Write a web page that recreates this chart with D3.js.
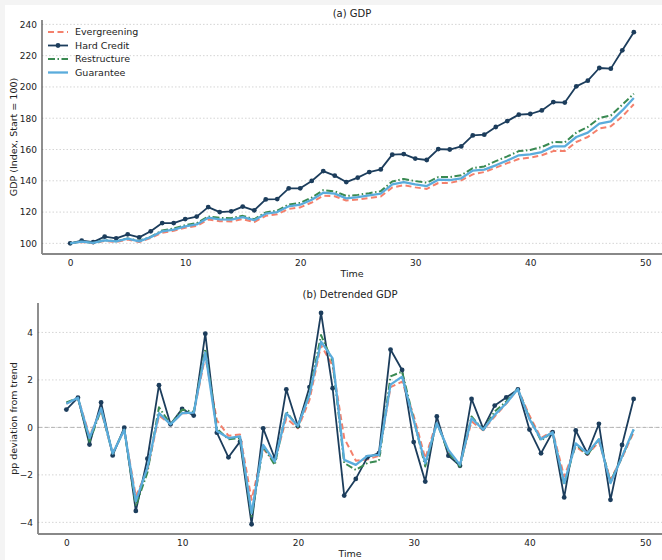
<!DOCTYPE html>
<html><head><meta charset="utf-8">
<script src="https://cdn.jsdelivr.net/npm/d3@7"></script>
<style>body{margin:0;background:#f4f4f4;}svg{display:block;font-family:"DejaVu Sans",sans-serif;}</style>
</head><body><svg id="c" width="662" height="560"></svg>
<script>
const time = d3.range(50);
const seriesNames = ["Evergreening","Hard Credit","Restructure","Guarantee"];
const gdpEvergreening = [100,100.9,100.1,101.6,100.9,102.5,100.8,103.4,106.8,108,110,111.1,115.2,114.2,114,115.5,113.6,117.6,118.6,122,123,126.1,130.5,130.1,127.4,128.1,129,130,135.7,137.2,135.8,134.8,138.6,138.6,140.3,144.1,145.6,148.4,151.3,153.9,154.8,156.3,159,159,164.8,168,173.4,174.8,181.2,188.9];
const gdpHardCredit = [100,101.7,100.8,104.3,103.2,105.8,103.8,107.7,113,113,115.5,117.1,123.2,120,120.5,123.5,121.1,128.1,128.3,135.2,135.2,139.9,146.2,143.3,139.2,142,145.6,147.3,156.7,157.1,154.2,153.3,160.3,160,162,169,169.5,174.4,178.2,182.3,182.7,185,190.3,190,200.4,204,212.1,211.7,223.4,235];
const gdpRestructure = [100,101.2,100.4,102,101.4,103.2,101.5,104.2,108.3,109.5,111.6,113,117.2,116.3,116.1,117.6,115.4,119.8,121,124.8,125.9,129.3,134,133.3,130.3,131,132.1,133.4,139.6,141.2,139.8,138.8,142.4,142.4,143.5,148.1,149.2,152.6,155.6,159,159.7,161.6,164.8,164.6,170.8,174.4,180.1,181.8,188.7,195.7];
const gdpGuarantee = [100,101.1,100.3,101.9,101.3,103,101.3,104,107.7,108.8,110.9,112.1,116.4,115.3,115.2,116.8,114.8,119,120,123.7,124.7,127.9,132.4,131.8,128.8,129.6,130.7,131.8,137.7,139.2,137.7,136.6,140.7,140.5,141.6,146.5,147.1,149.9,153,156.3,156.9,158.4,162,162,168,170.8,176.5,178,185,192.9];

const devEvergreening = [1.0,1.25,-0.35,0.7,-1.1,-0.1,-2.9,-1.8,0.5,0.13,0.6,0.6,3.0,0.3,-0.35,-0.3,-3.05,-0.9,-1.44,0.39,-0.04,1.16,3.47,2.6,-0.45,-1.4,-1.35,-1.2,1.7,1.93,0.5,-1.3,0.25,-1.0,-1.6,0.25,-0.12,0.46,1.0,1.62,0.5,-0.45,-0.15,-2.07,-0.8,-1.16,-0.6,-2.2,-1.28,-0.2];
const devHardCredit = [0.75,1.25,-0.72,1.05,-1.18,-0.01,-3.52,-1.32,1.78,0.13,0.78,0.5,3.95,-0.22,-1.26,-0.6,-4.08,-0.04,-1.3,1.6,0.05,1.7,4.82,1.65,-2.87,-2.17,-1.26,-1.08,3.28,2.42,-0.62,-2.28,0.46,-1.19,-1.62,1.2,-0.04,0.92,1.26,1.6,-0.09,-1.09,-0.2,-2.95,-0.13,-1.09,0.15,-3.05,-0.74,1.2];
const devRestructure = [1.05,1.25,-0.6,0.75,-1.1,-0.1,-3.3,-1.9,0.85,0.13,0.75,0.65,3.3,-0.05,-0.5,-0.45,-3.75,-0.8,-1.58,0.67,0.02,1.45,3.89,2.77,-1.5,-1.79,-1.5,-1.41,2.15,2.35,0.35,-1.65,0.2,-1.05,-1.65,0.46,-0.1,0.67,1.09,1.62,0.4,-0.55,-0.2,-2.42,-0.7,-1.16,-0.5,-2.28,-1.25,-0.1];
const devGuarantee = [1.0,1.25,-0.45,0.8,-1.1,-0.1,-3.1,-1.7,0.6,0.13,0.6,0.62,3.15,-0.15,-0.45,-0.38,-3.61,-0.74,-1.44,0.6,0.06,1.37,3.61,2.91,-1.37,-1.58,-1.2,-1.16,1.8,2.14,0.3,-1.51,0.18,-0.95,-1.58,0.39,-0.1,0.53,1.02,1.62,0.35,-0.5,-0.2,-2.35,-0.67,-1.09,-0.5,-2.35,-1.23,-0.08];

const gdpTicks = [100,120,140,160,180,200,220,240];
const devTicks = [-4,-2,0,2,4];
const xTicks = [0,10,20,30,40,50];

const styles = {
  "Evergreening": {color:"#f4806c", width:2, dash:"6,3.5", marker:false},
  "Hard Credit": {color:"#1c3d5c", width:1.8, dash:null, marker:true},
  "Restructure": {color:"#3a8a52", width:2, dash:"7,2.5,1.5,2.5", marker:false},
  "Guarantee": {color:"#5aacdc", width:2.3, dash:null, marker:false}
};

const svg = d3.select("#c");
svg.append("rect").attr("x",5).attr("y",5).attr("width",657).attr("height",555).attr("fill","#fff");

function panel(cfg){
  const x = d3.scaleLinear().domain([-2.45,51.45]).range([cfg.left,662]);
  const y = d3.scaleLinear().domain(cfg.ydom).range([cfg.bottom,cfg.top]);
  const g = svg.append("g");
  // grid
  g.selectAll(".grid").data(cfg.yticks).join("line")
    .attr("x1",cfg.left).attr("x2",662).attr("y1",d=>y(d)).attr("y2",d=>y(d))
    .attr("stroke","#d0d0d0").attr("stroke-width",0.9).attr("stroke-dasharray","1.5,2");
  if(cfg.zero){
    g.append("line").attr("x1",cfg.left).attr("x2",662).attr("y1",y(0)).attr("y2",y(0))
      .attr("stroke","#b5b5b5").attr("stroke-width",1).attr("stroke-dasharray","4,2.5");
  }
  // axes
  const ya = d3.axisLeft(y).tickValues(cfg.yticks).tickSize(0).tickPadding(5).tickFormat(d3.format("d"));
  const ga = g.append("g").attr("transform",`translate(${cfg.left},0)`).call(ya);
  ga.select(".domain").remove();
  const xa = d3.axisBottom(x).tickValues(xTicks).tickSize(0).tickPadding(6);
  const gx = g.append("g").attr("transform",`translate(0,${cfg.bottom})`).call(xa);
  gx.select(".domain").remove();
  g.selectAll(".tick text").attr("font-size",9).attr("fill","#222").attr("font-family","DejaVu Sans");
  ga.selectAll(".tick text").text(d=>d<0?"\u2212"+Math.abs(d):d);
  // spines
  g.append("line").attr("x1",cfg.left).attr("x2",cfg.left).attr("y1",cfg.top).attr("y2",cfg.bottom).attr("stroke","#444").attr("stroke-width",1.2);
  g.append("line").attr("x1",cfg.left).attr("x2",662).attr("y1",cfg.bottom).attr("y2",cfg.bottom).attr("stroke","#888").attr("stroke-width",1.8);
  // lines
  cfg.series.forEach((vals,i)=>{
    const s = styles[seriesNames[i]];
    const line = d3.line().x((d,j)=>x(time[j])).y(d=>y(d));
    g.append("path").datum(vals).attr("d",line).attr("fill","none")
      .attr("stroke",s.color).attr("stroke-width",s.width)
      .attr("stroke-dasharray",s.dash).attr("stroke-linejoin","round");
    if(s.marker){
      g.selectAll(null).data(vals).join("circle").attr("cx",(d,j)=>x(time[j])).attr("cy",d=>y(d))
        .attr("r",2.4).attr("fill",s.color);
    }
  });
  // titles
  svg.append("text").attr("x",(cfg.left+662)/2).attr("y",cfg.titleY).attr("text-anchor","middle")
    .attr("font-size",10).attr("fill","#222").text(cfg.title);
  svg.append("text").attr("x",(cfg.left+662)/2).attr("y",cfg.bottom+23).attr("text-anchor","middle")
    .attr("font-size",9.5).attr("fill","#222").text("Time");
  svg.append("text").attr("transform",`translate(17,${(cfg.top+cfg.bottom)/2}) rotate(-90)`)
    .attr("text-anchor","middle").attr("font-size",9.5).attr("fill","#222").text(cfg.ylabel);
  return {x,y};
}

panel({left:42, top:20, bottom:254, ydom:[93.2,242.8], yticks:gdpTicks, zero:false,
  series:[gdpEvergreening,gdpHardCredit,gdpRestructure,gdpGuarantee], title:"(a) GDP", titleY:17,
  ylabel:"GDP (Index, Start = 100)"});
panel({left:38, top:303, bottom:534, ydom:[-4.49,5.24], yticks:devTicks, zero:true,
  series:[devEvergreening,devHardCredit,devRestructure,devGuarantee], title:"(b) Detrended GDP", titleY:298,
  ylabel:"pp deviation from trend"});

// legend
const lg = svg.append("g");
seriesNames.forEach((n,i)=>{
  const s = styles[n];
  const yy = 32 + i*13.5;
  lg.append("line").attr("x1",48).attr("x2",68).attr("y1",yy).attr("y2",yy)
    .attr("stroke",s.color).attr("stroke-width",s.width).attr("stroke-dasharray",s.dash);
  if(s.marker) lg.append("circle").attr("cx",58).attr("cy",yy).attr("r",2.4).attr("fill",s.color);
  lg.append("text").attr("x",75).attr("y",yy+3.3).attr("font-size",9.5).attr("fill","#222").text(n);
});
</script></body></html>
